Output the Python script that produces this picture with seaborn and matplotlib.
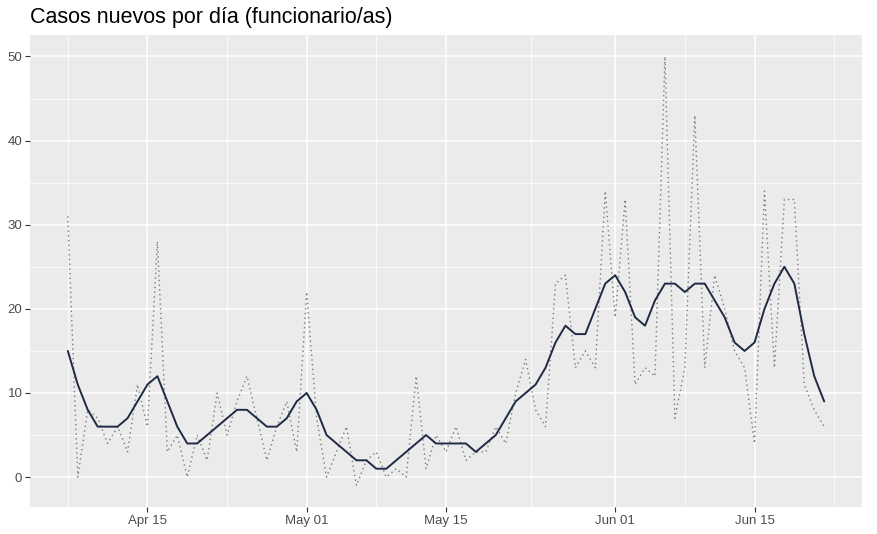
import matplotlib
matplotlib.use("Agg")
import matplotlib.dates as mdates
import matplotlib.pyplot as plt
import pandas as pd
import seaborn as sns

# Casos diarios (funcionario/as), 7 abr – 22 jun
start_date = "2020-04-07"
casos_diarios = [
    31, 0, 8, 7, 4, 6, 3, 11, 6, 28,
    3, 5, 0, 5, 2, 10, 5, 9, 12, 7,
    2, 6, 9, 3, 22, 7, 0, 3, 6, -1,
    2, 3, 0, 1, 0, 12, 1, 5, 3, 6,
    2, 3, 3, 6, 4, 10, 14, 8, 6, 23,
    24, 13, 15, 13, 34, 19, 33, 11, 13, 12,
    50, 7, 13, 43, 13, 24, 20, 15, 13, 4,
    34, 13, 33, 33, 11, 8, 6,
]
# Promedio suavizado
casos_suavizados = [
    15, 11, 8, 6, 6, 6, 7, 9, 11, 12,
    9, 6, 4, 4, 5, 6, 7, 8, 8, 7,
    6, 6, 7, 9, 10, 8, 5, 4, 3, 2,
    2, 1, 1, 2, 3, 4, 5, 4, 4, 4,
    4, 3, 4, 5, 7, 9, 10, 11, 13, 16,
    18, 17, 17, 20, 23, 24, 22, 19, 18, 21,
    23, 23, 22, 23, 23, 21, 19, 16, 15, 16,
    20, 23, 25, 23, 17, 12, 9,
]
x_ticks = ["2020-04-15", "2020-05-01", "2020-05-15", "2020-06-01", "2020-06-15"]
x_minor = ["2020-04-07 00:00", "2020-04-23 00:00", "2020-05-08 00:00",
           "2020-05-23 12:00", "2020-06-08 00:00", "2020-06-23 00:00"]
y_ticks = [0, 10, 20, 30, 40, 50]
y_minor = [5, 15, 25, 35, 45]

df = pd.DataFrame({
    "fecha": pd.date_range(start_date, periods=len(casos_diarios), freq="D"),
    "diarios": casos_diarios,
    "suavizado": casos_suavizados,
})

sns.set_theme(style="darkgrid", rc={
    "axes.facecolor": "#EBEBEB",
    "grid.color": "white",
    "axes.edgecolor": "#EBEBEB",
})
plt.rcParams["font.family"] = ["Liberation Sans", "DejaVu Sans"]

fig = plt.figure(figsize=(8.77, 5.34), dpi=100)
ax = fig.add_axes([30 / 877, 1 - 507 / 534, 832 / 877, 472 / 534])

sns.lineplot(data=df, x="fecha", y="diarios", ax=ax, color="#7a7a7a",
             linewidth=1.0, linestyle=(0, (1, 2.4)))
sns.lineplot(data=df, x="fecha", y="suavizado", ax=ax, color="#1f2a44",
             linewidth=1.4)

ax.set_xticks(pd.to_datetime(x_ticks))
ax.set_xticks(pd.to_datetime(x_minor, format="%Y-%m-%d %H:%M"), minor=True)
ax.xaxis.set_major_formatter(mdates.DateFormatter("%b %d"))
ax.set_yticks(y_ticks)
ax.set_yticks(y_minor, minor=True)
ax.grid(which="major", color="white", linewidth=1.1)
ax.grid(which="minor", color="white", linewidth=0.55)
ax.margins(x=0.05, y=0.05)
for s in ax.spines.values():
    s.set_visible(False)
ax.tick_params(which="major", length=3.5, width=0.8, color="#333333",
               labelsize=9.5, labelcolor="#4D4D4D", pad=2, bottom=True, left=True)
ax.tick_params(which="minor", length=0)
ax.set_xlabel("")
ax.set_ylabel("")
fig.text(30 / 877, 1 - 18 / 534, "Casos nuevos por día (funcionario/as)",
         fontsize=15.5, color="black", va="center", ha="left")

fig.savefig("out.png", dpi=100)
